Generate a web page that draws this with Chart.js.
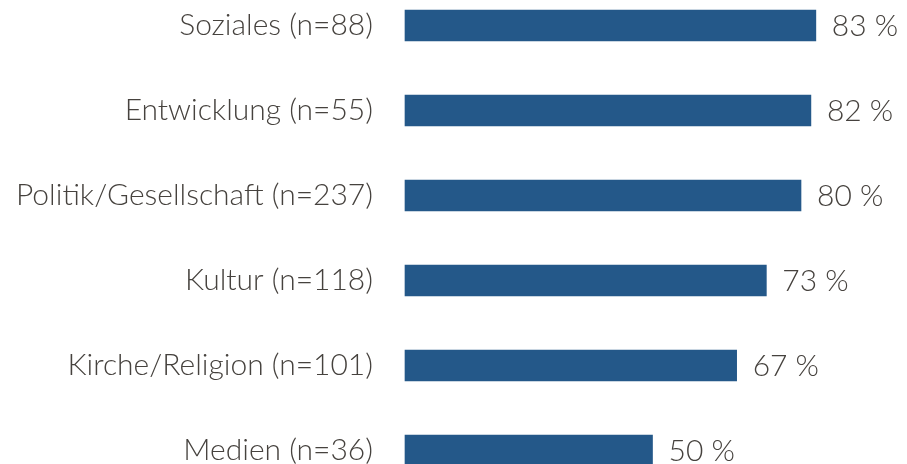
<!DOCTYPE html>
<html>
<head>
<meta charset="utf-8">
<script src="https://cdn.jsdelivr.net/npm/chart.js@4"></script>
<style>
  html, body { margin: 0; padding: 0; background: #fff; }
  #wrap { width: 907px; height: 464px; position: relative; }
</style>
</head>
<body>
<div id="wrap"><canvas id="chart"></canvas></div>
<script>
const categories = ['Soziales (n=88)', 'Entwicklung (n=55)', 'Politik/Gesellschaft (n=237)', 'Kultur (n=118)', 'Kirche/Religion (n=101)', 'Medien (n=36)'];
const shares = [83, 82, 80, 73, 67, 50];

const textColor = '#46423e';
const fontSpec = { family: 'Lato, "Open Sans", sans-serif', size: 30, weight: 300 };

// value labels right of each bar
const valueLabels = {
    id: 'valueLabels',
    afterDatasetsDraw(chart) {
        const ctx = chart.ctx;
        const meta = chart.getDatasetMeta(0);
        ctx.save();
        ctx.font = `${fontSpec.weight} ${fontSpec.size}px ${fontSpec.family}`;
        ctx.fillStyle = textColor;
        ctx.textAlign = 'left';
        ctx.textBaseline = 'middle';
        meta.data.forEach((bar, i) => {
            ctx.fillText(shares[i] + ' %', bar.x + 16, bar.y + 1);
        });
        ctx.restore();
    }
};

const ctx = document.getElementById('chart');
new Chart(ctx, {
    type: 'bar',
    data: {
        labels: categories,
        datasets: [{
            data: shares,
            backgroundColor: '#245889',
            borderWidth: 0,
            barThickness: 31,
            clip: false
        }]
    },
    options: {
        indexAxis: 'y',
        responsive: true,
        maintainAspectRatio: false,
        animation: false,
        layout: { padding: { top: 25.5, bottom: 13.5, right: 7, left: 0 } },
        plugins: { legend: { display: false }, tooltip: { enabled: false } },
        scales: {
            x: { min: 0, max: 100, display: false },
            y: {
                offset: false,
                border: { display: false },
                grid: { display: false, drawTicks: false },
                ticks: { color: textColor, font: fontSpec, padding: 32 },
                afterFit(scale) {
                    scale.width = 405;
                    scale.paddingTop = 0;
                    scale.paddingBottom = 0;
                }
            }
        }
    },
    plugins: [valueLabels]
});
</script>
</body>
</html>
